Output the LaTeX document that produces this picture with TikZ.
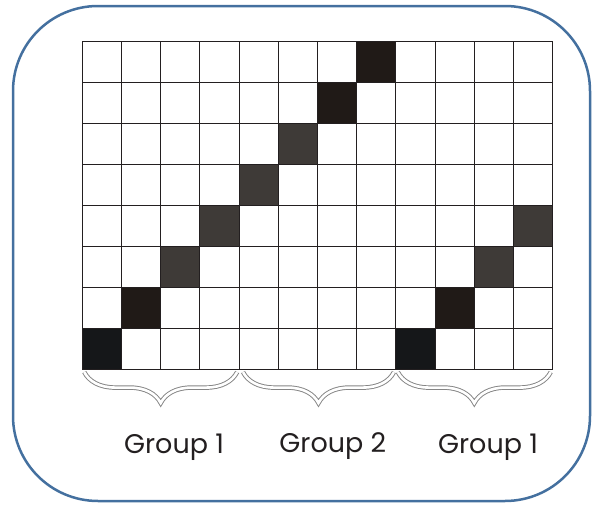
\documentclass[tikz,border=0pt]{standalone}
\usepackage{fontspec}
\setmainfont{Poppins}
\usetikzlibrary{decorations.pathreplacing}
\definecolor{frameblue}{HTML}{44709F}
\definecolor{gridink}{HTML}{231F20}
\definecolor{inkA}{HTML}{151719}
\definecolor{inkB}{HTML}{201A17}
\definecolor{inkC}{HTML}{3E3A37}
\definecolor{bracegray}{HTML}{858585}

\begin{document}
\begin{tikzpicture}[x=1pt,y=-1pt,
    gridlines/.style={draw=gridink, line width=1pt},
    groupbrace/.style={decorate, decoration={brace, mirror, amplitude=31pt, aspect=0.5}},
    grouplabel/.style={font=\fontsize{27}{30}\selectfont, text=gridink}]
  \useasboundingbox (0,0) rectangle (595,506);
  \draw[frameblue, line width=2.5pt, rounded corners=85pt] (13,6) rectangle (590,501);
  \begin{scope}[shift={(82.3,369)}, x=39.2pt, y=40.9pt]
    % diagonal cells: column/row/colour
    \foreach \c/\r/\clr in {0/0/inkA, 1/1/inkB, 2/2/inkC, 3/3/inkC,
        4/4/inkC, 5/5/inkC, 6/6/inkB, 7/7/inkB,
        8/0/inkA, 9/1/inkB, 10/2/inkC, 11/3/inkC}{
      \fill[\clr] (\c,\r) rectangle ++(1,1);
    }
    \foreach \c in {0,...,12}{
      \draw[gridlines] (\c,0) -- (\c,8);
    }
    \foreach \r in {0,...,8}{
      \draw[gridlines] (0,\r) -- (12,\r);
    }
    % braces under the three groups
    \foreach \a/\b/\n in {0.05/3.95/1, 4.1/7.95/2, 8.05/11.95/3}{
      \coordinate (bw\n) at (\a,-0.075);
      \coordinate (be\n) at (\b,-0.075);
      \draw[groupbrace, bracegray, line width=4.5pt] (bw\n) -- (be\n);
      \draw[groupbrace, white, line width=2.6pt] (bw\n) -- (be\n);
    }
    \node[grouplabel] (lblA) at (2.34,-1.91) {Group 1};
    \node[grouplabel] (lblB) at (6.39,-1.88) {Group 2};
    \node[grouplabel] (lblC) at (10.35,-1.91) {Group 1};
  \end{scope}
\end{tikzpicture}
\end{document}
